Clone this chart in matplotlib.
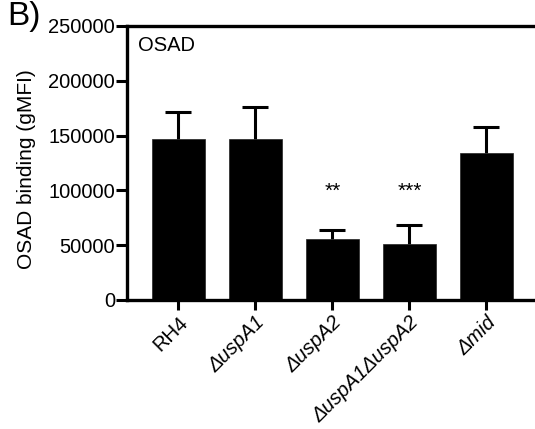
import numpy as np
import matplotlib.pyplot as plt

plt.rcParams['font.family'] = ['Liberation Sans', 'DejaVu Sans']

strains = ['RH4', 'ΔuspA1', 'ΔuspA2', 'ΔuspA1ΔuspA2', 'Δmid']
italic = [False, True, True, True, True]
binding = [147000, 146500, 55500, 51500, 134000]
binding_err = [24500, 30000, 8000, 16500, 24000]
stars = ['', '', '**', '***', '']

fig = plt.figure(figsize=(5.35, 4.29), dpi=100)
# axes runs past the right edge of the figure, so only the left/top/bottom frame shows
ax = fig.add_axes([0.2383, 0.3007, 0.7804, 0.6387])

x = np.arange(len(strains))
ax.bar(x, binding, width=0.7, color='black', edgecolor='#222222', linewidth=0.5, zorder=2)
# upper error only
_, caps, _ = ax.errorbar(x, binding, yerr=[np.zeros(len(binding)), binding_err], fmt='none',
                         ecolor='black', elinewidth=2.2, capsize=9.5, capthick=2.2, zorder=1)
caps[0].set_visible(False)

for xi, s in zip(x, stars):
    if s:
        ax.text(xi, 99000, s, ha='center', va='center', fontsize=15)

ax.set_xlim(-0.662, 4.76)
ax.set_ylim(0, 250000)
ax.set_yticks(np.arange(0, 250001, 50000))
ax.set_xticks(x)
ax.set_xticklabels(strains, rotation=45, ha='right', rotation_mode='anchor', fontsize=14.5)
for lab, it in zip(ax.get_xticklabels(), italic):
    if it:
        lab.set_style('italic')
ax.tick_params(axis='y', labelsize=14.5, length=8, width=2.2, pad=1)
ax.tick_params(axis='x', length=7, width=2.2, pad=2)

for side in ['left', 'top', 'bottom']:
    ax.spines[side].set_linewidth(2.4)
ax.spines['right'].set_visible(False)

ax.text(0.025, 0.965, 'OSAD', transform=ax.transAxes, ha='left', va='top', fontsize=14.5)
fig.text(27 / 535, 1 - 169 / 429, 'OSAD binding (gMFI)', rotation=90,
         ha='center', va='center', fontsize=15)
fig.text(7 / 535, 1 - 1 / 429, 'B)', ha='left', va='top', fontsize=24)
fig.text(7 / 535, 1 - 431 / 429, 'D)', ha='left', va='top', fontsize=24)

fig.savefig('out.png', dpi=100)
